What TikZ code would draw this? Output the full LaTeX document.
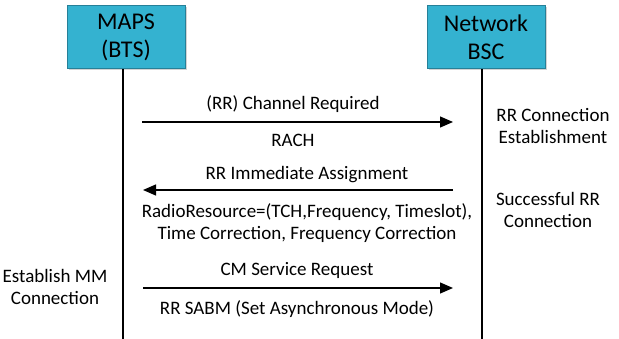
\documentclass[tikz,border=0pt]{standalone}
\usepackage{fontspec}
\setmainfont{Carlito}
\usetikzlibrary{arrows.meta,shadows}
\definecolor{boxfill}{RGB}{52,178,208}
\definecolor{boxline}{RGB}{38,128,152}
\begin{document}
\begin{tikzpicture}[x=1pt,y=-1pt,
  entity/.style={draw=boxline,fill=boxfill,line width=0.8pt,minimum width=118pt,minimum height=63pt,
    align=center,font=\fontsize{24}{28}\selectfont,drop shadow={opacity=0.35,shadow xshift=2pt,shadow yshift=-2pt}},
  lbl/.style={font=\fontsize{19}{22}\selectfont,align=center,inner sep=0pt},
  msg/.style={line width=1.2pt,-{Triangle[length=13pt,width=11pt]}},
  life/.style={line width=1.2pt}]
\useasboundingbox (0,0) rectangle (619,339);
\node[entity] (maps) at (126,37) {MAPS\\(BTS)};
\node[entity] (net) at (486,37) {Network\\BSC};
\coordinate (mapsbot) at (123,339);
\coordinate (netbot) at (482,339);
\draw[life] (maps.south -| mapsbot) -- (mapsbot);
\draw[life] (net.south -| netbot) -- (netbot);
% message 1
\coordinate (m1s) at (142,122);
\coordinate (m1e) at (453,122);
\draw[msg] (m1s) -- (m1e);
\node[lbl] (m1a) at (293,104) {(RR) Channel Required};
\node[lbl] (m1b) at (293,140) {RACH};
\node[lbl] (n1) at (553,126) {RR Connection\\Establishment};
% message 2
\coordinate (m2s) at (453,190);
\coordinate (m2e) at (143,190);
\draw[msg] (m2s) -- (m2e);
\node[lbl] (m2a) at (307,175) {RR Immediate Assignment};
\node[lbl] (m2b) at (307,223) {RadioResource=(TCH,Frequency, Timeslot),\\Time Correction, Frequency Correction};
\node[lbl] (n2) at (548,210) {Successful RR\\Connection};
% message 3
\coordinate (m3s) at (143,288);
\coordinate (m3e) at (453,288);
\draw[msg] (m3s) -- (m3e);
\node[lbl] (m3a) at (297,270) {CM Service Request};
\node[lbl] (m3b) at (297,309) {RR SABM (Set Asynchronous Mode)};
\node[lbl] (n3) at (55,287) {Establish MM\\Connection};
\end{tikzpicture}
\end{document}
